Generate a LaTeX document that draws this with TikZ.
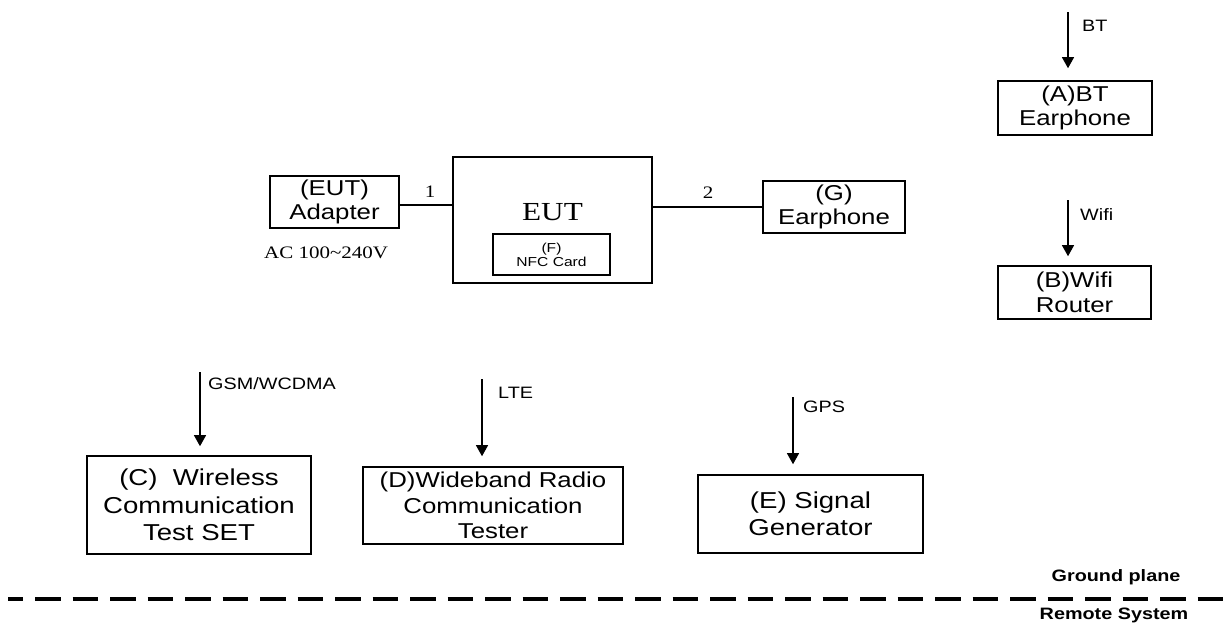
\documentclass[tikz,border=0pt]{standalone}
\usepackage{fontspec}
\setmainfont{Liberation Serif}[FakeStretch=1.2]
\newfontfamily\arialx{Liberation Sans}[FakeStretch=1.2]
\usetikzlibrary{arrows.meta}
\begin{document}
\begin{tikzpicture}[x=1pt,y=-1pt,
  box/.style={draw,line width=1.6pt,rectangle,inner sep=0pt,align=center,
    font=\arialx\fontsize{21.5}{24.5}\selectfont},
  bigbox/.style={box,font=\arialx\fontsize{23}{27.5}\selectfont},
  nfcbox/.style={box,line width=1.4pt,font=\arialx\fontsize{13}{14}\selectfont},
  eutbox/.style={box,line width=1.6pt,font=\fontsize{26}{30}\selectfont},
  arr/.style={line width=1.1pt,-{Triangle[length=11pt,width=12pt]}},
  wire/.style={line width=1.1pt},
  lab/.style={anchor=west,inner sep=0pt,font=\arialx\fontsize{16.5}{18}\selectfont},
  serlab/.style={inner sep=0pt,font=\fontsize{17.5}{19}\selectfont},
  gnd/.style={inner sep=0pt,font=\arialx\bfseries\fontsize{16.5}{18}\selectfont}]
\useasboundingbox (0,0) rectangle (1225,625);

% boxes
\node[box,minimum width=129pt,minimum height=52pt] (adapter) at (334.5,202) {(EUT)\\Adapter};
\node[eutbox,minimum width=199pt,minimum height=126pt] (eut) at (552.5,220) {};
\node[inner sep=0pt,font=\fontsize{26}{30}\selectfont] (euttext) at (552.5,212) {EUT};
\node[nfcbox,minimum width=117pt,minimum height=41pt] (nfc) at (551.5,254.5) {(F)\\NFC Card};
\node[box,minimum width=142pt,minimum height=52pt] (g) at (834,207) {(G)\\Earphone};
\node[box,minimum width=154pt,minimum height=54pt] (a) at (1075,108) {(A)BT\\Earphone};
\node[box,minimum width=153pt,minimum height=53pt] (b) at (1074.5,292.5) {(B)Wifi\\Router};
\node[bigbox,minimum width=224pt,minimum height=98pt] (c) at (199,505) {(C)\ \ Wireless\\Communication\\Test SET};
\node[box,minimum width=260pt,minimum height=77pt,font=\arialx\fontsize{21.5}{25.5}\selectfont] (d) at (493,505.5) {(D)Wideband Radio\\Communication\\Tester};
\node[bigbox,minimum width=225pt,minimum height=78pt] (e) at (810.5,514) {(E) Signal\\Generator};

% wires
\draw[wire] (adapter.east |- 0,205) -- (eut.west |- 0,205);
\node[serlab] (n1) at (430,192) {1};
\draw[wire] (eut.east |- g.west) -- (g.west);
\node[serlab] (n2) at (708,193) {2};
\node[serlab,anchor=west] (ac) at (264,253) {AC 100\textasciitilde240V};

% arrows
\coordinate (bt0) at (1068,12);
\draw[arr,shorten >=12pt] (bt0) -- (bt0 |- a.north);
\node[lab] (btl) at (1082,26) {BT};

\coordinate (wf0) at (1068,200);
\draw[arr,shorten >=9pt] (wf0) -- (wf0 |- b.north);
\node[lab] (wfl) at (1080,215) {Wifi};

\coordinate (gsm0) at (200,372);
\draw[arr,shorten >=9pt] (gsm0) -- (gsm0 |- c.north);
\node[lab] (gsml) at (208,384) {GSM/WCDMA};

\coordinate (lte0) at (482,379);
\draw[arr,shorten >=10pt] (lte0) -- (lte0 |- d.north);
\node[lab] (ltel) at (498,393) {LTE};

\coordinate (gps0) at (793,397);
\draw[arr,shorten >=10pt] (gps0) -- (gps0 |- e.north);
\node[lab] (gpsl) at (803,407) {GPS};

% ground plane
\coordinate (gl) at (8,599);
\coordinate (gr) at (1225,599);
\draw[line width=3.3pt,dash pattern=on 25.5pt off 12pt,dash phase=10.5pt] (gl) -- (gr);
\node[gnd] (gp) at (1116,577) {Ground plane};
\node[gnd] (rs) at (1114,615) {Remote System};
\end{tikzpicture}
\end{document}
